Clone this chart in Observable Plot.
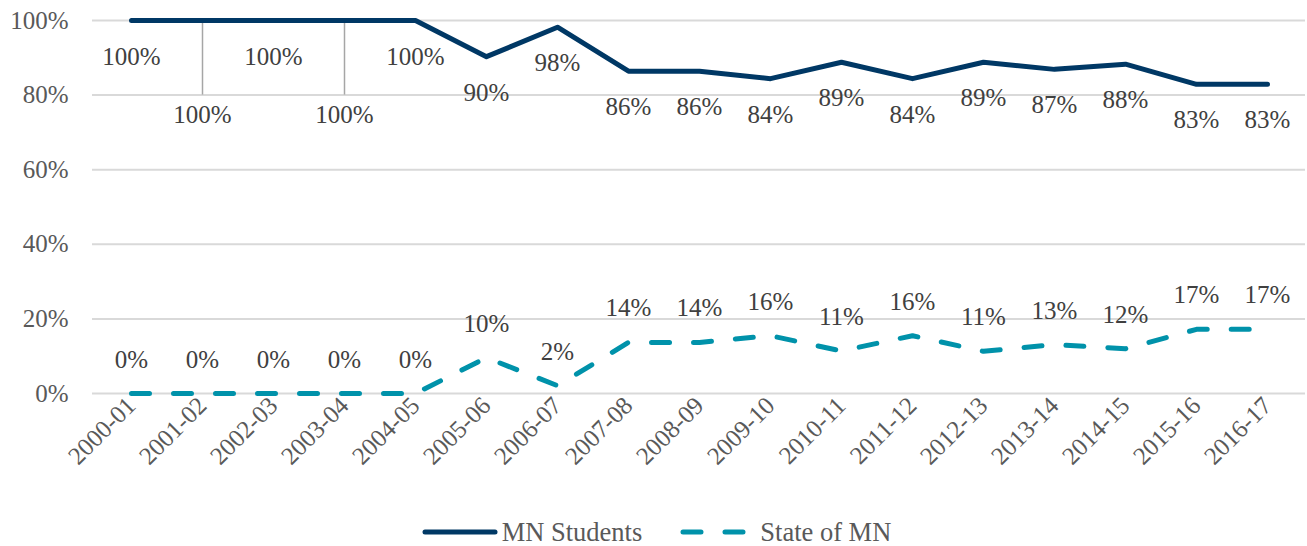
<!DOCTYPE html>
<html>
<head>
<meta charset="utf-8">
<script src="https://cdn.jsdelivr.net/npm/d3@7"></script>
<script src="https://cdn.jsdelivr.net/npm/@observablehq/plot@0.6"></script>
<style>
  body { margin: 0; background: #fff; font-family: 'Liberation Serif', 'Times New Roman', serif; }
  #legend { display: flex; justify-content: center; align-items: center; font-size: 26.5px; color: #595959; height: 36px; margin-top: 4px; padding-left: 6px; }
  #legend .item { display: flex; align-items: center; margin: 0 19px; }
  #legend svg { margin-right: 4px; }
</style>
</head>
<body>
<div id="chart"></div>
<div id="legend"></div>
<script>
const years = ["2000-01","2001-02","2002-03","2003-04","2004-05","2005-06","2006-07","2007-08","2008-09","2009-10","2010-11","2011-12","2012-13","2013-14","2014-15","2015-16","2016-17"];
const mnStudents = [100,100,100,100,100,90.3,98.2,86.4,86.4,84.4,88.8,84.4,88.8,86.9,88.3,82.9,82.9];
const stateOfMN = [0,0,0,0,0,9.6,2.1,13.7,13.7,15.5,11.4,15.5,11.3,13.1,12.0,17.2,17.2];
const yTicks = [0,20,40,60,80,100];
const seriesNames = ["MN Students","State of MN"];
const colors = ["#003865","#0092AA"];

const mnData = years.map((y, i) => ({year: y, value: mnStudents[i], label: Math.round(mnStudents[i]) + "%"}));
const stData = years.map((y, i) => ({year: y, value: stateOfMN[i], label: Math.round(stateOfMN[i]) + "%"}));
const leader = new Set(["2001-02","2003-04"]);
const font = "Liberation Serif";

const plot = Plot.plot({
  width: 1307,
  height: 510,
  marginLeft: 92,
  marginRight: 2,
  marginTop: 20,
  marginBottom: 117,
  style: {fontFamily: font, fontSize: "25px"},
  x: {type: "point", domain: years, padding: 0.5, label: null},
  y: {domain: [0, 100], label: null},
  marks: [
    Plot.gridY(yTicks, {stroke: "#d9d9d9", strokeOpacity: 1, strokeWidth: 2}),
    Plot.axisY(yTicks, {tickSize: 0, tickPadding: 24, tickFormat: d => d + "%", fill: "#595959", fontSize: 25, fontFamily: font, label: null}),
    Plot.axisX({tickSize: 0, tickPadding: 8, tickRotate: -45, fill: "#595959", fontSize: 25, fontFamily: font, label: null}),
    Plot.ruleX(mnData.filter(d => leader.has(d.year)), {x: "year", y1: "value", y2: 80, stroke: "#a6a6a6", strokeWidth: 1.5}),
    Plot.line(mnData, {x: "year", y: "value", stroke: colors[0], strokeWidth: 5, strokeLinecap: "round", strokeLinejoin: "round"}),
    Plot.line(stData, {x: "year", y: "value", stroke: colors[1], strokeWidth: 5, strokeLinecap: "round", strokeDasharray: "18,24"}),
    Plot.text(mnData.filter(d => !leader.has(d.year)), {x: "year", y: "value", text: "label", dy: 36, fill: "#404040", fontSize: 25, fontFamily: font}),
    Plot.text(mnData.filter(d => leader.has(d.year)), {x: "year", y: "value", text: "label", dy: 94, fill: "#404040", fontSize: 25, fontFamily: font}),
    Plot.text(stData, {x: "year", y: "value", text: "label", dy: -34, fill: "#404040", fontSize: 25, fontFamily: font})
  ]
});
document.getElementById("chart").appendChild(plot);

const legend = document.getElementById("legend");
seriesNames.forEach((name, i) => {
  const item = document.createElement("div");
  item.className = "item";
  const dash = i === 1 ? ' stroke-dasharray="18,24"' : '';
  item.innerHTML = `<svg width="76" height="10"><line x1="3" x2="73" y1="5" y2="5" stroke="${colors[i]}" stroke-width="5" stroke-linecap="round"${dash}/></svg><span>${name}</span>`;
  legend.appendChild(item);
});
</script>
</body>
</html>
